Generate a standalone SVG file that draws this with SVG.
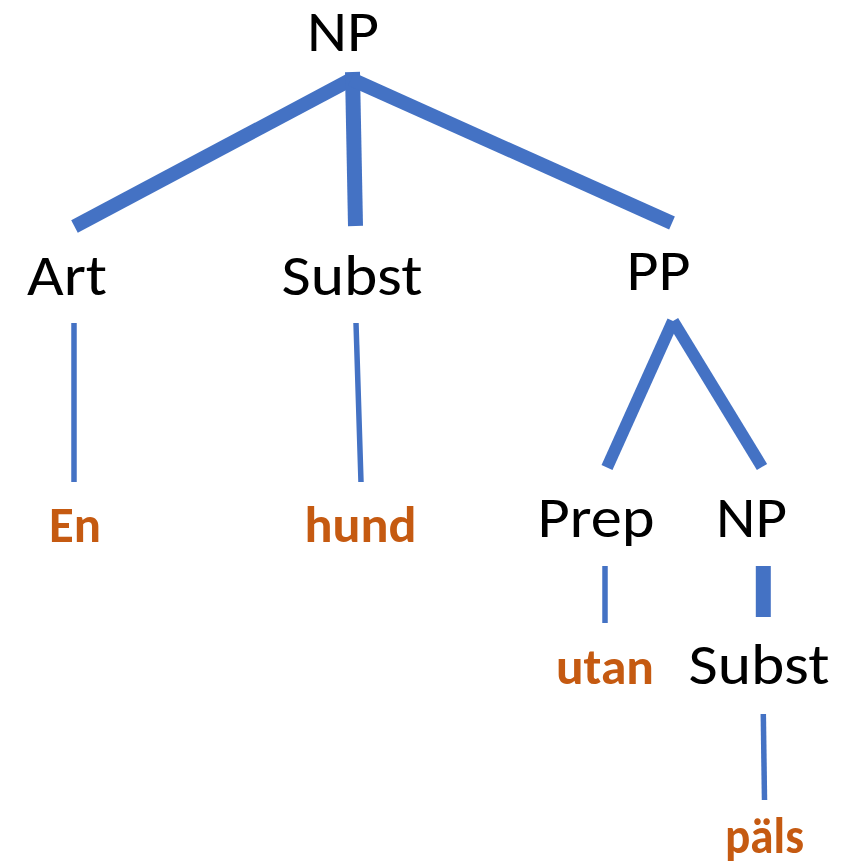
<svg xmlns="http://www.w3.org/2000/svg" width="851" height="866" viewBox="0 0 851 866">
<style>
.lbl{font-family:Carlito,Lato,"Open Sans",sans-serif;font-size:57px;fill:#000;text-anchor:middle}
.word{font-family:Carlito,Lato,"Open Sans",sans-serif;font-size:50px;font-weight:bold;fill:#C55A11;text-anchor:middle}
.edge{stroke:#4472C4;stroke-linecap:butt;fill:none}
.thick{stroke-width:14}
.mid{stroke-width:12}
.thin{stroke-width:5.5}
</style>
<rect width="851" height="866" fill="#fff"/>
<g id="connectors">
<line class="edge thick" x1="352" y1="79" x2="74.5" y2="226.5"/>
<line class="edge" stroke-width="15" x1="352.5" y1="72" x2="355.5" y2="226"/>
<line class="edge thick" x1="351" y1="79" x2="672" y2="223"/>
<line class="edge mid" x1="673" y1="321" x2="607" y2="467.5"/>
<line class="edge mid" x1="673" y1="321" x2="762" y2="467"/>
<line class="edge thin" x1="74" y1="323" x2="74" y2="482"/>
<line class="edge thin" x1="356" y1="323" x2="361" y2="482"/>
<line class="edge thin" x1="605" y1="566" x2="605" y2="623"/>
<line class="edge" stroke-width="15" x1="763.3" y1="566" x2="763.3" y2="617"/>
<line class="edge thin" x1="763.3" y1="714" x2="764.5" y2="800"/>
</g>
<g id="np-top"><text class="lbl" x="343" y="51" textLength="72" lengthAdjust="spacingAndGlyphs">NP</text></g>
<g id="art"><text class="lbl" x="67" y="295" textLength="80" lengthAdjust="spacingAndGlyphs">Art</text></g>
<g id="subst-1"><text class="lbl" x="352" y="295" textLength="141" lengthAdjust="spacingAndGlyphs">Subst</text></g>
<g id="pp"><text class="lbl" x="658.5" y="290" textLength="64" lengthAdjust="spacingAndGlyphs">PP</text></g>
<g id="en"><text class="word" x="75" y="542" textLength="52" lengthAdjust="spacingAndGlyphs">En</text></g>
<g id="hund"><text class="word" x="360.5" y="542" textLength="112" lengthAdjust="spacingAndGlyphs">hund</text></g>
<g id="prep"><text class="lbl" x="596" y="537" textLength="117" lengthAdjust="spacingAndGlyphs">Prep</text></g>
<g id="np-2"><text class="lbl" x="751.5" y="537" textLength="71" lengthAdjust="spacingAndGlyphs">NP</text></g>
<g id="utan"><text class="word" x="605" y="684" textLength="98" lengthAdjust="spacingAndGlyphs">utan</text></g>
<g id="subst-2"><text class="lbl" x="759" y="684" textLength="141" lengthAdjust="spacingAndGlyphs">Subst</text></g>
<g id="pals"><text class="word" x="764.5" y="853" textLength="79" lengthAdjust="spacingAndGlyphs">päls</text></g>
</svg>
